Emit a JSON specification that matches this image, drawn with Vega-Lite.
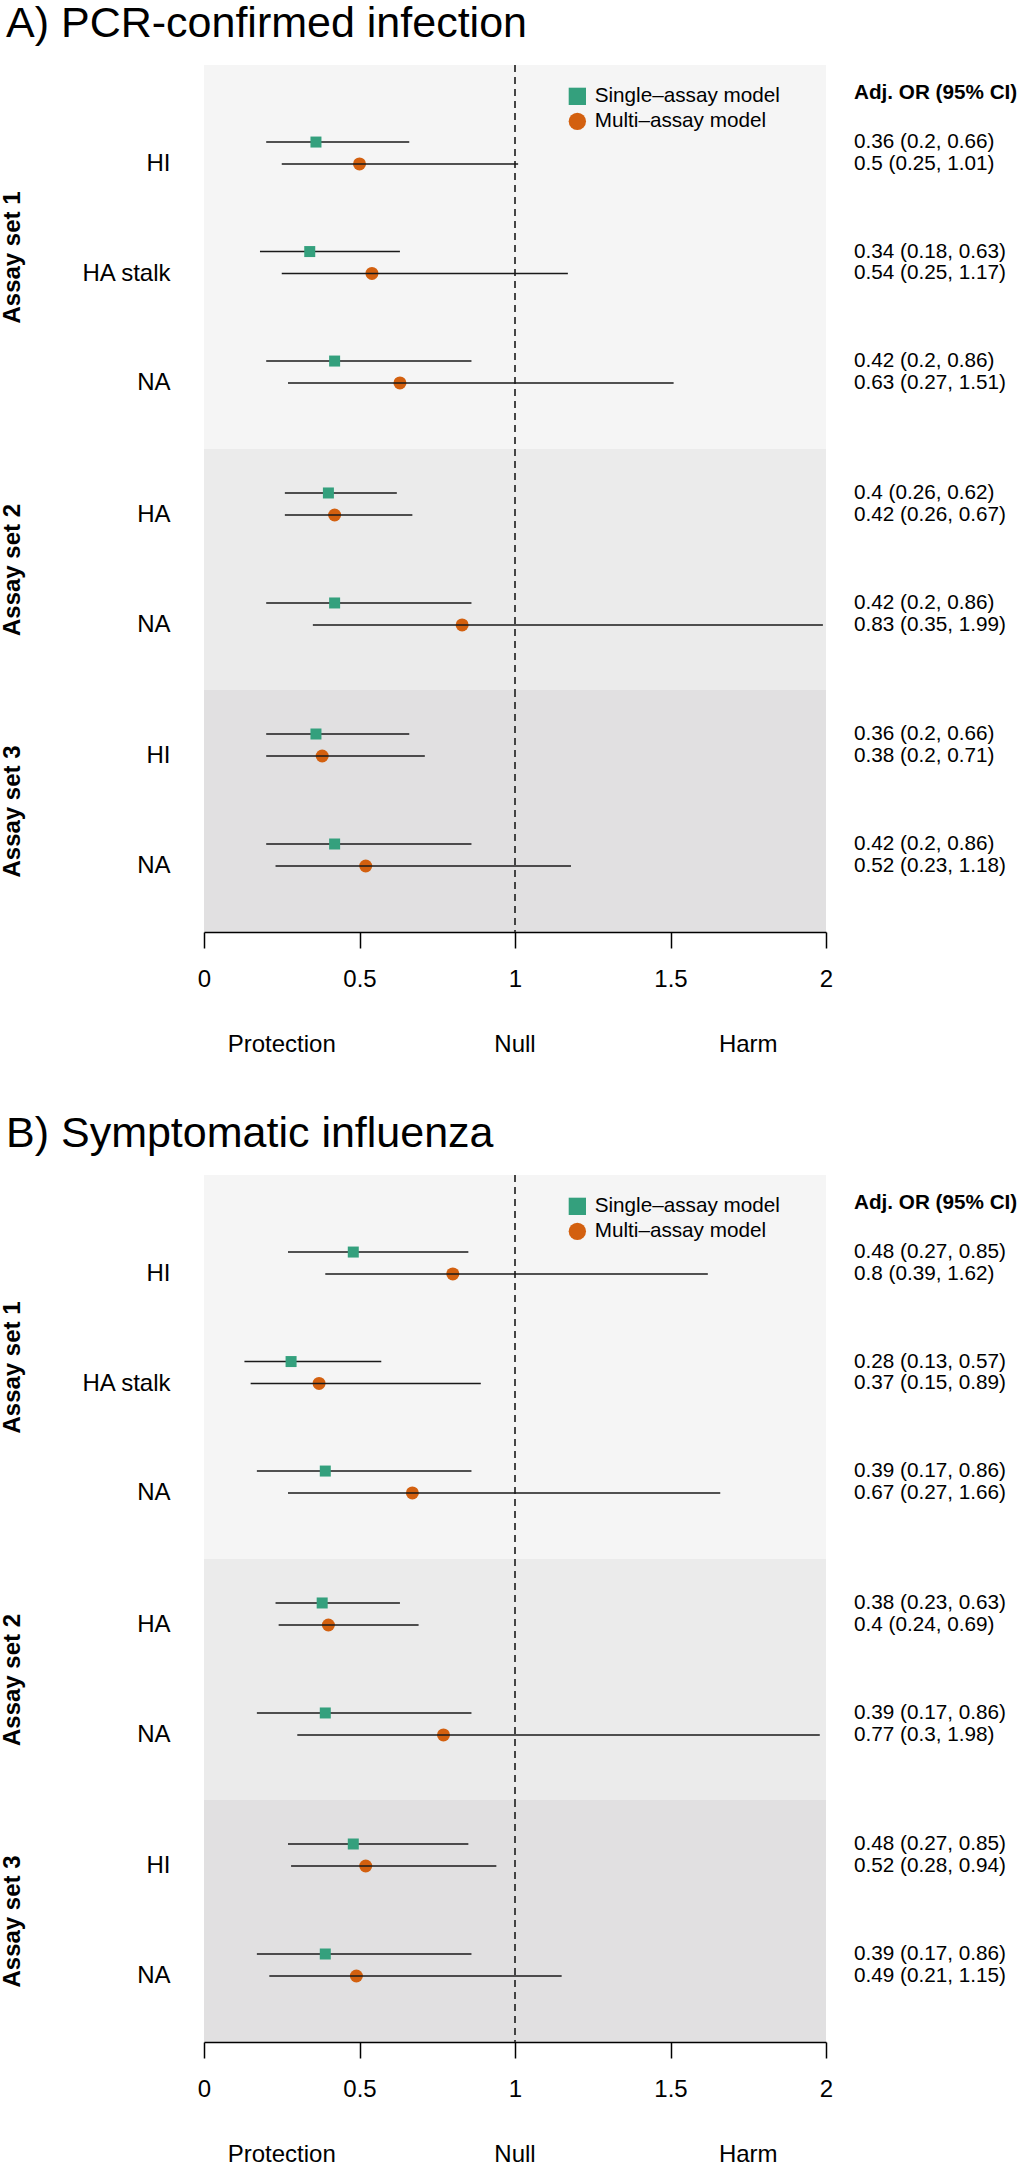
{
  "$schema": "https://vega.github.io/schema/vega-lite/v6.json",
  "padding": {"left": 0, "top": 3, "right": 0, "bottom": 0},
  "datasets": {
    "est": [
      {"outcome": "A", "set": "Assay set 1", "assay": "HI", "model": "Single–assay model", "est": 0.36, "lo": 0.2, "hi": 0.66, "label": "0.36 (0.2, 0.66)"},
      {"outcome": "A", "set": "Assay set 1", "assay": "HI", "model": "Multi–assay model", "est": 0.5, "lo": 0.25, "hi": 1.01, "label": "0.5 (0.25, 1.01)"},
      {"outcome": "A", "set": "Assay set 1", "assay": "HA stalk", "model": "Single–assay model", "est": 0.34, "lo": 0.18, "hi": 0.63, "label": "0.34 (0.18, 0.63)"},
      {"outcome": "A", "set": "Assay set 1", "assay": "HA stalk", "model": "Multi–assay model", "est": 0.54, "lo": 0.25, "hi": 1.17, "label": "0.54 (0.25, 1.17)"},
      {"outcome": "A", "set": "Assay set 1", "assay": "NA", "model": "Single–assay model", "est": 0.42, "lo": 0.2, "hi": 0.86, "label": "0.42 (0.2, 0.86)"},
      {"outcome": "A", "set": "Assay set 1", "assay": "NA", "model": "Multi–assay model", "est": 0.63, "lo": 0.27, "hi": 1.51, "label": "0.63 (0.27, 1.51)"},
      {"outcome": "A", "set": "Assay set 2", "assay": "HA", "model": "Single–assay model", "est": 0.4, "lo": 0.26, "hi": 0.62, "label": "0.4 (0.26, 0.62)"},
      {"outcome": "A", "set": "Assay set 2", "assay": "HA", "model": "Multi–assay model", "est": 0.42, "lo": 0.26, "hi": 0.67, "label": "0.42 (0.26, 0.67)"},
      {"outcome": "A", "set": "Assay set 2", "assay": "NA", "model": "Single–assay model", "est": 0.42, "lo": 0.2, "hi": 0.86, "label": "0.42 (0.2, 0.86)"},
      {"outcome": "A", "set": "Assay set 2", "assay": "NA", "model": "Multi–assay model", "est": 0.83, "lo": 0.35, "hi": 1.99, "label": "0.83 (0.35, 1.99)"},
      {"outcome": "A", "set": "Assay set 3", "assay": "HI", "model": "Single–assay model", "est": 0.36, "lo": 0.2, "hi": 0.66, "label": "0.36 (0.2, 0.66)"},
      {"outcome": "A", "set": "Assay set 3", "assay": "HI", "model": "Multi–assay model", "est": 0.38, "lo": 0.2, "hi": 0.71, "label": "0.38 (0.2, 0.71)"},
      {"outcome": "A", "set": "Assay set 3", "assay": "NA", "model": "Single–assay model", "est": 0.42, "lo": 0.2, "hi": 0.86, "label": "0.42 (0.2, 0.86)"},
      {"outcome": "A", "set": "Assay set 3", "assay": "NA", "model": "Multi–assay model", "est": 0.52, "lo": 0.23, "hi": 1.18, "label": "0.52 (0.23, 1.18)"},
      {"outcome": "B", "set": "Assay set 1", "assay": "HI", "model": "Single–assay model", "est": 0.48, "lo": 0.27, "hi": 0.85, "label": "0.48 (0.27, 0.85)"},
      {"outcome": "B", "set": "Assay set 1", "assay": "HI", "model": "Multi–assay model", "est": 0.8, "lo": 0.39, "hi": 1.62, "label": "0.8 (0.39, 1.62)"},
      {"outcome": "B", "set": "Assay set 1", "assay": "HA stalk", "model": "Single–assay model", "est": 0.28, "lo": 0.13, "hi": 0.57, "label": "0.28 (0.13, 0.57)"},
      {"outcome": "B", "set": "Assay set 1", "assay": "HA stalk", "model": "Multi–assay model", "est": 0.37, "lo": 0.15, "hi": 0.89, "label": "0.37 (0.15, 0.89)"},
      {"outcome": "B", "set": "Assay set 1", "assay": "NA", "model": "Single–assay model", "est": 0.39, "lo": 0.17, "hi": 0.86, "label": "0.39 (0.17, 0.86)"},
      {"outcome": "B", "set": "Assay set 1", "assay": "NA", "model": "Multi–assay model", "est": 0.67, "lo": 0.27, "hi": 1.66, "label": "0.67 (0.27, 1.66)"},
      {"outcome": "B", "set": "Assay set 2", "assay": "HA", "model": "Single–assay model", "est": 0.38, "lo": 0.23, "hi": 0.63, "label": "0.38 (0.23, 0.63)"},
      {"outcome": "B", "set": "Assay set 2", "assay": "HA", "model": "Multi–assay model", "est": 0.4, "lo": 0.24, "hi": 0.69, "label": "0.4 (0.24, 0.69)"},
      {"outcome": "B", "set": "Assay set 2", "assay": "NA", "model": "Single–assay model", "est": 0.39, "lo": 0.17, "hi": 0.86, "label": "0.39 (0.17, 0.86)"},
      {"outcome": "B", "set": "Assay set 2", "assay": "NA", "model": "Multi–assay model", "est": 0.77, "lo": 0.3, "hi": 1.98, "label": "0.77 (0.3, 1.98)"},
      {"outcome": "B", "set": "Assay set 3", "assay": "HI", "model": "Single–assay model", "est": 0.48, "lo": 0.27, "hi": 0.85, "label": "0.48 (0.27, 0.85)"},
      {"outcome": "B", "set": "Assay set 3", "assay": "HI", "model": "Multi–assay model", "est": 0.52, "lo": 0.28, "hi": 0.94, "label": "0.52 (0.28, 0.94)"},
      {"outcome": "B", "set": "Assay set 3", "assay": "NA", "model": "Single–assay model", "est": 0.39, "lo": 0.17, "hi": 0.86, "label": "0.39 (0.17, 0.86)"},
      {"outcome": "B", "set": "Assay set 3", "assay": "NA", "model": "Multi–assay model", "est": 0.49, "lo": 0.21, "hi": 1.15, "label": "0.49 (0.21, 1.15)"}
    ]
  },
  "spacing": 56,
  "resolve": {"scale": {"x": "independent", "y": "independent", "yOffset": "independent", "color": "independent", "shape": "independent"}},
  "vconcat": [
    {
      "title": {"text": "A) PCR-confirmed infection", "anchor": "start", "fontSize": 43, "fontWeight": "normal", "color": "black", "offset": 19, "dx": 6},
      "spacing": 42,
      "resolve": {"scale": {"x": "independent", "y": "independent", "yOffset": "independent", "color": "independent", "shape": "independent"}},
      "vconcat": [
        {
          "spacing": 0,
          "resolve": {"scale": {"x": "independent", "y": "independent", "yOffset": "independent", "color": "independent", "shape": "independent"}},
          "vconcat": [
            {
              "width": 622, "height": 384,
              "view": {"fill": "#F5F5F5", "stroke": null},
              "title": {"text": "Adj. OR (95% CI)", "anchor": "start", "frame": "group", "dx": 650, "offset": -49, "baseline": "middle", "fontSize": 20.7, "fontWeight": "bold", "color": "black"},
              "layer": [
                {"data": {"values": [{"v": 1}]}, "mark": {"type": "rule", "strokeDash": [7, 5], "color": "#333333", "strokeWidth": 1.8, "clip": true}, "encoding": {"x": {"datum": 1, "type": "quantitative", "scale": {"domain": [0, 2], "nice": false, "zero": false}, "axis": null}}},
                {
                  "data": {"name": "est"},
                  "transform": [{"filter": "datum.outcome == 'A' && datum.set == 'Assay set 1'"}],
                  "encoding": {
                    "y": {"field": "assay", "type": "nominal", "scale": {"type": "band", "domain": ["HI", "HA stalk", "NA"], "paddingInner": 0.6, "paddingOuter": 0.5534, "align": 0.5454}, "axis": {"title": "Assay set 1", "titleFontSize": 24, "titleFontWeight": "bold", "titleColor": "black", "titleAngle": 270, "titleBaseline": "alphabetic", "titleAlign": "center", "titleX": -185, "labelFontSize": 24, "labelColor": "black", "labelPadding": 34, "labelOffset": 11, "domain": false, "ticks": false, "grid": false, "minExtent": 140, "maxExtent": 140, "labelLimit": 300}},
                    "yOffset": {"field": "model", "type": "nominal", "scale": {"domain": ["Single–assay model", "Multi–assay model"], "paddingInner": 0, "paddingOuter": 0}}
                  },
                  "layer": [
                    {"transform": [{"filter": "datum.model == 'Multi–assay model'"}], "mark": {"type": "point", "filled": true, "opacity": 1, "strokeWidth": 0, "size": 169}, "encoding": {"x": {"field": "est", "type": "quantitative", "scale": {"domain": [0, 2], "nice": false, "zero": false}, "axis": null}, "color": {"field": "model", "type": "nominal", "scale": {"domain": ["Single–assay model", "Multi–assay model"], "range": ["#34A07D", "#D3600F"]}, "legend": {"title": null, "orient": "none", "legendX": 363, "legendY": 21, "labelFontSize": 20.7, "labelColor": "black", "labelLimit": 400, "symbolSize": 300, "padding": 0, "rowPadding": 3, "labelOffset": 7, "symbolStrokeWidth": 0, "symbolOpacity": 1}}, "shape": {"field": "model", "type": "nominal", "scale": {"domain": ["Single–assay model", "Multi–assay model"], "range": ["square", "circle"]}, "legend": {"title": null, "orient": "none", "legendX": 363, "legendY": 21, "labelFontSize": 20.7, "labelColor": "black", "labelLimit": 400, "symbolSize": 300, "padding": 0, "rowPadding": 3, "labelOffset": 7, "symbolStrokeWidth": 0, "symbolOpacity": 1}}}},
                    {"mark": {"type": "rule", "color": "#1a1a1a", "strokeWidth": 1.6}, "encoding": {"x": {"field": "lo", "type": "quantitative", "scale": {"domain": [0, 2], "nice": false, "zero": false}, "axis": null}, "x2": {"field": "hi"}}},
                    {"transform": [{"filter": "datum.model == 'Single–assay model'"}], "mark": {"type": "point", "filled": true, "opacity": 1, "strokeWidth": 0, "size": 121}, "encoding": {"x": {"field": "est", "type": "quantitative", "scale": {"domain": [0, 2], "nice": false, "zero": false}, "axis": null}, "color": {"field": "model", "type": "nominal", "scale": {"domain": ["Single–assay model", "Multi–assay model"], "range": ["#34A07D", "#D3600F"]}, "legend": {"title": null, "orient": "none", "legendX": 363, "legendY": 21, "labelFontSize": 20.7, "labelColor": "black", "labelLimit": 400, "symbolSize": 300, "padding": 0, "rowPadding": 3, "labelOffset": 7, "symbolStrokeWidth": 0, "symbolOpacity": 1}}, "shape": {"field": "model", "type": "nominal", "scale": {"domain": ["Single–assay model", "Multi–assay model"], "range": ["square", "circle"]}, "legend": {"title": null, "orient": "none", "legendX": 363, "legendY": 21, "labelFontSize": 20.7, "labelColor": "black", "labelLimit": 400, "symbolSize": 300, "padding": 0, "rowPadding": 3, "labelOffset": 7, "symbolStrokeWidth": 0, "symbolOpacity": 1}}}},
                    {"mark": {"type": "text", "align": "left", "baseline": "middle", "fontSize": 20.7, "color": "black"}, "encoding": {"x": {"datum": 2.09, "type": "quantitative", "scale": {"domain": [0, 2], "nice": false, "zero": false}, "axis": null}, "text": {"field": "label"}}}
                  ]
                }
              ]
            },
            {
              "width": 622, "height": 241,
              "view": {"fill": "#EBEBEB", "stroke": null},
              "layer": [
                {"data": {"values": [{"v": 1}]}, "mark": {"type": "rule", "strokeDash": [7, 5], "color": "#333333", "strokeWidth": 1.8, "clip": true}, "encoding": {"x": {"datum": 1, "type": "quantitative", "scale": {"domain": [0, 2], "nice": false, "zero": false}, "axis": null}}},
                {
                  "data": {"name": "est"},
                  "transform": [{"filter": "datum.outcome == 'A' && datum.set == 'Assay set 2'"}],
                  "encoding": {
                    "y": {"field": "assay", "type": "nominal", "scale": {"type": "band", "domain": ["HA", "NA"], "paddingInner": 0.6, "paddingOuter": 0.3955, "align": 0.379}, "axis": {"title": "Assay set 2", "titleFontSize": 24, "titleFontWeight": "bold", "titleColor": "black", "titleAngle": 270, "titleBaseline": "alphabetic", "titleAlign": "center", "titleX": -185, "labelFontSize": 24, "labelColor": "black", "labelPadding": 34, "labelOffset": 11, "domain": false, "ticks": false, "grid": false, "minExtent": 140, "maxExtent": 140, "labelLimit": 300}},
                    "yOffset": {"field": "model", "type": "nominal", "scale": {"domain": ["Single–assay model", "Multi–assay model"], "paddingInner": 0, "paddingOuter": 0}}
                  },
                  "layer": [
                    {"transform": [{"filter": "datum.model == 'Multi–assay model'"}], "mark": {"type": "point", "filled": true, "opacity": 1, "strokeWidth": 0, "size": 169}, "encoding": {"x": {"field": "est", "type": "quantitative", "scale": {"domain": [0, 2], "nice": false, "zero": false}, "axis": null}, "color": {"field": "model", "type": "nominal", "scale": {"domain": ["Single–assay model", "Multi–assay model"], "range": ["#34A07D", "#D3600F"]}, "legend": null}, "shape": {"field": "model", "type": "nominal", "scale": {"domain": ["Single–assay model", "Multi–assay model"], "range": ["square", "circle"]}, "legend": null}}},
                    {"mark": {"type": "rule", "color": "#1a1a1a", "strokeWidth": 1.6}, "encoding": {"x": {"field": "lo", "type": "quantitative", "scale": {"domain": [0, 2], "nice": false, "zero": false}, "axis": null}, "x2": {"field": "hi"}}},
                    {"transform": [{"filter": "datum.model == 'Single–assay model'"}], "mark": {"type": "point", "filled": true, "opacity": 1, "strokeWidth": 0, "size": 121}, "encoding": {"x": {"field": "est", "type": "quantitative", "scale": {"domain": [0, 2], "nice": false, "zero": false}, "axis": null}, "color": {"field": "model", "type": "nominal", "scale": {"domain": ["Single–assay model", "Multi–assay model"], "range": ["#34A07D", "#D3600F"]}, "legend": null}, "shape": {"field": "model", "type": "nominal", "scale": {"domain": ["Single–assay model", "Multi–assay model"], "range": ["square", "circle"]}, "legend": null}}},
                    {"mark": {"type": "text", "align": "left", "baseline": "middle", "fontSize": 20.7, "color": "black"}, "encoding": {"x": {"datum": 2.09, "type": "quantitative", "scale": {"domain": [0, 2], "nice": false, "zero": false}, "axis": null}, "text": {"field": "label"}}}
                  ]
                }
              ]
            },
            {
              "width": 622, "height": 242,
              "view": {"fill": "#E1E0E1", "stroke": null},
              "resolve": {"axis": {"x": "independent"}},
              "layer": [
                {"data": {"values": [{"v": 1}]}, "mark": {"type": "rule", "strokeDash": [7, 5], "color": "#333333", "strokeWidth": 1.8, "clip": true}, "encoding": {"x": {"datum": 1, "type": "quantitative", "scale": {"domain": [0, 2], "nice": false, "zero": false}, "axis": {"values": [0, 0.5, 1, 1.5, 2], "format": "~g", "orient": "bottom", "title": null, "domainColor": "black", "domainWidth": 1.5, "tickColor": "black", "tickWidth": 1.5, "tickSize": 16, "labelFontSize": 24, "labelColor": "black", "labelPadding": 19, "grid": false, "labelFlush": false, "labelOverlap": false}}}},
                {
                  "data": {"name": "est"},
                  "transform": [{"filter": "datum.outcome == 'A' && datum.set == 'Assay set 3'"}],
                  "encoding": {
                    "y": {"field": "assay", "type": "nominal", "scale": {"type": "band", "domain": ["HI", "NA"], "paddingInner": 0.6, "paddingOuter": 0.4, "align": 0.375}, "axis": {"title": "Assay set 3", "titleFontSize": 24, "titleFontWeight": "bold", "titleColor": "black", "titleAngle": 270, "titleBaseline": "alphabetic", "titleAlign": "center", "titleX": -185, "labelFontSize": 24, "labelColor": "black", "labelPadding": 34, "labelOffset": 11, "domain": false, "ticks": false, "grid": false, "minExtent": 140, "maxExtent": 140, "labelLimit": 300}},
                    "yOffset": {"field": "model", "type": "nominal", "scale": {"domain": ["Single–assay model", "Multi–assay model"], "paddingInner": 0, "paddingOuter": 0}}
                  },
                  "layer": [
                    {"transform": [{"filter": "datum.model == 'Multi–assay model'"}], "mark": {"type": "point", "filled": true, "opacity": 1, "strokeWidth": 0, "size": 169}, "encoding": {"x": {"field": "est", "type": "quantitative", "scale": {"domain": [0, 2], "nice": false, "zero": false}, "axis": null}, "color": {"field": "model", "type": "nominal", "scale": {"domain": ["Single–assay model", "Multi–assay model"], "range": ["#34A07D", "#D3600F"]}, "legend": null}, "shape": {"field": "model", "type": "nominal", "scale": {"domain": ["Single–assay model", "Multi–assay model"], "range": ["square", "circle"]}, "legend": null}}},
                    {"mark": {"type": "rule", "color": "#1a1a1a", "strokeWidth": 1.6}, "encoding": {"x": {"field": "lo", "type": "quantitative", "scale": {"domain": [0, 2], "nice": false, "zero": false}, "axis": null}, "x2": {"field": "hi"}}},
                    {"transform": [{"filter": "datum.model == 'Single–assay model'"}], "mark": {"type": "point", "filled": true, "opacity": 1, "strokeWidth": 0, "size": 121}, "encoding": {"x": {"field": "est", "type": "quantitative", "scale": {"domain": [0, 2], "nice": false, "zero": false}, "axis": null}, "color": {"field": "model", "type": "nominal", "scale": {"domain": ["Single–assay model", "Multi–assay model"], "range": ["#34A07D", "#D3600F"]}, "legend": null}, "shape": {"field": "model", "type": "nominal", "scale": {"domain": ["Single–assay model", "Multi–assay model"], "range": ["square", "circle"]}, "legend": null}}},
                    {"mark": {"type": "text", "align": "left", "baseline": "middle", "fontSize": 20.7, "color": "black"}, "encoding": {"x": {"datum": 2.09, "type": "quantitative", "scale": {"domain": [0, 2], "nice": false, "zero": false}, "axis": null}, "text": {"field": "label"}}}
                  ]
                }
              ]
            }
          ]
        },
        {
          "width": 622, "height": 16,
          "data": {"values": [{"v": 1}]},
          "layer": [
            {"mark": {"type": "text", "fontSize": 24, "color": "black", "baseline": "middle", "align": "center"}, "encoding": {"x": {"datum": 0.25, "type": "quantitative", "scale": {"domain": [0, 2], "nice": false, "zero": false}, "axis": null}, "text": {"value": "Protection"}}},
            {"mark": {"type": "text", "fontSize": 24, "color": "black", "baseline": "middle", "align": "center"}, "encoding": {"x": {"datum": 1, "type": "quantitative", "scale": {"domain": [0, 2], "nice": false, "zero": false}, "axis": null}, "text": {"value": "Null"}}},
            {"mark": {"type": "text", "fontSize": 24, "color": "black", "baseline": "middle", "align": "center"}, "encoding": {"x": {"datum": 1.75, "type": "quantitative", "scale": {"domain": [0, 2], "nice": false, "zero": false}, "axis": null}, "text": {"value": "Harm"}}}
          ]
        }
      ]
    },
    {
      "title": {"text": "B) Symptomatic influenza", "anchor": "start", "fontSize": 43, "fontWeight": "normal", "color": "black", "offset": 19, "dx": 6},
      "spacing": 42,
      "resolve": {"scale": {"x": "independent", "y": "independent", "yOffset": "independent", "color": "independent", "shape": "independent"}},
      "vconcat": [
        {
          "spacing": 0,
          "resolve": {"scale": {"x": "independent", "y": "independent", "yOffset": "independent", "color": "independent", "shape": "independent"}},
          "vconcat": [
            {
              "width": 622, "height": 384,
              "view": {"fill": "#F5F5F5", "stroke": null},
              "title": {"text": "Adj. OR (95% CI)", "anchor": "start", "frame": "group", "dx": 650, "offset": -49, "baseline": "middle", "fontSize": 20.7, "fontWeight": "bold", "color": "black"},
              "layer": [
                {"data": {"values": [{"v": 1}]}, "mark": {"type": "rule", "strokeDash": [7, 5], "color": "#333333", "strokeWidth": 1.8, "clip": true}, "encoding": {"x": {"datum": 1, "type": "quantitative", "scale": {"domain": [0, 2], "nice": false, "zero": false}, "axis": null}}},
                {
                  "data": {"name": "est"},
                  "transform": [{"filter": "datum.outcome == 'B' && datum.set == 'Assay set 1'"}],
                  "encoding": {
                    "y": {"field": "assay", "type": "nominal", "scale": {"type": "band", "domain": ["HI", "HA stalk", "NA"], "paddingInner": 0.6, "paddingOuter": 0.5534, "align": 0.5454}, "axis": {"title": "Assay set 1", "titleFontSize": 24, "titleFontWeight": "bold", "titleColor": "black", "titleAngle": 270, "titleBaseline": "alphabetic", "titleAlign": "center", "titleX": -185, "labelFontSize": 24, "labelColor": "black", "labelPadding": 34, "labelOffset": 11, "domain": false, "ticks": false, "grid": false, "minExtent": 140, "maxExtent": 140, "labelLimit": 300}},
                    "yOffset": {"field": "model", "type": "nominal", "scale": {"domain": ["Single–assay model", "Multi–assay model"], "paddingInner": 0, "paddingOuter": 0}}
                  },
                  "layer": [
                    {"transform": [{"filter": "datum.model == 'Multi–assay model'"}], "mark": {"type": "point", "filled": true, "opacity": 1, "strokeWidth": 0, "size": 169}, "encoding": {"x": {"field": "est", "type": "quantitative", "scale": {"domain": [0, 2], "nice": false, "zero": false}, "axis": null}, "color": {"field": "model", "type": "nominal", "scale": {"domain": ["Single–assay model", "Multi–assay model"], "range": ["#34A07D", "#D3600F"]}, "legend": {"title": null, "orient": "none", "legendX": 363, "legendY": 21, "labelFontSize": 20.7, "labelColor": "black", "labelLimit": 400, "symbolSize": 300, "padding": 0, "rowPadding": 3, "labelOffset": 7, "symbolStrokeWidth": 0, "symbolOpacity": 1}}, "shape": {"field": "model", "type": "nominal", "scale": {"domain": ["Single–assay model", "Multi–assay model"], "range": ["square", "circle"]}, "legend": {"title": null, "orient": "none", "legendX": 363, "legendY": 21, "labelFontSize": 20.7, "labelColor": "black", "labelLimit": 400, "symbolSize": 300, "padding": 0, "rowPadding": 3, "labelOffset": 7, "symbolStrokeWidth": 0, "symbolOpacity": 1}}}},
                    {"mark": {"type": "rule", "color": "#1a1a1a", "strokeWidth": 1.6}, "encoding": {"x": {"field": "lo", "type": "quantitative", "scale": {"domain": [0, 2], "nice": false, "zero": false}, "axis": null}, "x2": {"field": "hi"}}},
                    {"transform": [{"filter": "datum.model == 'Single–assay model'"}], "mark": {"type": "point", "filled": true, "opacity": 1, "strokeWidth": 0, "size": 121}, "encoding": {"x": {"field": "est", "type": "quantitative", "scale": {"domain": [0, 2], "nice": false, "zero": false}, "axis": null}, "color": {"field": "model", "type": "nominal", "scale": {"domain": ["Single–assay model", "Multi–assay model"], "range": ["#34A07D", "#D3600F"]}, "legend": {"title": null, "orient": "none", "legendX": 363, "legendY": 21, "labelFontSize": 20.7, "labelColor": "black", "labelLimit": 400, "symbolSize": 300, "padding": 0, "rowPadding": 3, "labelOffset": 7, "symbolStrokeWidth": 0, "symbolOpacity": 1}}, "shape": {"field": "model", "type": "nominal", "scale": {"domain": ["Single–assay model", "Multi–assay model"], "range": ["square", "circle"]}, "legend": {"title": null, "orient": "none", "legendX": 363, "legendY": 21, "labelFontSize": 20.7, "labelColor": "black", "labelLimit": 400, "symbolSize": 300, "padding": 0, "rowPadding": 3, "labelOffset": 7, "symbolStrokeWidth": 0, "symbolOpacity": 1}}}},
                    {"mark": {"type": "text", "align": "left", "baseline": "middle", "fontSize": 20.7, "color": "black"}, "encoding": {"x": {"datum": 2.09, "type": "quantitative", "scale": {"domain": [0, 2], "nice": false, "zero": false}, "axis": null}, "text": {"field": "label"}}}
                  ]
                }
              ]
            },
            {
              "width": 622, "height": 241,
              "view": {"fill": "#EBEBEB", "stroke": null},
              "layer": [
                {"data": {"values": [{"v": 1}]}, "mark": {"type": "rule", "strokeDash": [7, 5], "color": "#333333", "strokeWidth": 1.8, "clip": true}, "encoding": {"x": {"datum": 1, "type": "quantitative", "scale": {"domain": [0, 2], "nice": false, "zero": false}, "axis": null}}},
                {
                  "data": {"name": "est"},
                  "transform": [{"filter": "datum.outcome == 'B' && datum.set == 'Assay set 2'"}],
                  "encoding": {
                    "y": {"field": "assay", "type": "nominal", "scale": {"type": "band", "domain": ["HA", "NA"], "paddingInner": 0.6, "paddingOuter": 0.3955, "align": 0.379}, "axis": {"title": "Assay set 2", "titleFontSize": 24, "titleFontWeight": "bold", "titleColor": "black", "titleAngle": 270, "titleBaseline": "alphabetic", "titleAlign": "center", "titleX": -185, "labelFontSize": 24, "labelColor": "black", "labelPadding": 34, "labelOffset": 11, "domain": false, "ticks": false, "grid": false, "minExtent": 140, "maxExtent": 140, "labelLimit": 300}},
                    "yOffset": {"field": "model", "type": "nominal", "scale": {"domain": ["Single–assay model", "Multi–assay model"], "paddingInner": 0, "paddingOuter": 0}}
                  },
                  "layer": [
                    {"transform": [{"filter": "datum.model == 'Multi–assay model'"}], "mark": {"type": "point", "filled": true, "opacity": 1, "strokeWidth": 0, "size": 169}, "encoding": {"x": {"field": "est", "type": "quantitative", "scale": {"domain": [0, 2], "nice": false, "zero": false}, "axis": null}, "color": {"field": "model", "type": "nominal", "scale": {"domain": ["Single–assay model", "Multi–assay model"], "range": ["#34A07D", "#D3600F"]}, "legend": null}, "shape": {"field": "model", "type": "nominal", "scale": {"domain": ["Single–assay model", "Multi–assay model"], "range": ["square", "circle"]}, "legend": null}}},
                    {"mark": {"type": "rule", "color": "#1a1a1a", "strokeWidth": 1.6}, "encoding": {"x": {"field": "lo", "type": "quantitative", "scale": {"domain": [0, 2], "nice": false, "zero": false}, "axis": null}, "x2": {"field": "hi"}}},
                    {"transform": [{"filter": "datum.model == 'Single–assay model'"}], "mark": {"type": "point", "filled": true, "opacity": 1, "strokeWidth": 0, "size": 121}, "encoding": {"x": {"field": "est", "type": "quantitative", "scale": {"domain": [0, 2], "nice": false, "zero": false}, "axis": null}, "color": {"field": "model", "type": "nominal", "scale": {"domain": ["Single–assay model", "Multi–assay model"], "range": ["#34A07D", "#D3600F"]}, "legend": null}, "shape": {"field": "model", "type": "nominal", "scale": {"domain": ["Single–assay model", "Multi–assay model"], "range": ["square", "circle"]}, "legend": null}}},
                    {"mark": {"type": "text", "align": "left", "baseline": "middle", "fontSize": 20.7, "color": "black"}, "encoding": {"x": {"datum": 2.09, "type": "quantitative", "scale": {"domain": [0, 2], "nice": false, "zero": false}, "axis": null}, "text": {"field": "label"}}}
                  ]
                }
              ]
            },
            {
              "width": 622, "height": 242,
              "view": {"fill": "#E1E0E1", "stroke": null},
              "resolve": {"axis": {"x": "independent"}},
              "layer": [
                {"data": {"values": [{"v": 1}]}, "mark": {"type": "rule", "strokeDash": [7, 5], "color": "#333333", "strokeWidth": 1.8, "clip": true}, "encoding": {"x": {"datum": 1, "type": "quantitative", "scale": {"domain": [0, 2], "nice": false, "zero": false}, "axis": {"values": [0, 0.5, 1, 1.5, 2], "format": "~g", "orient": "bottom", "title": null, "domainColor": "black", "domainWidth": 1.5, "tickColor": "black", "tickWidth": 1.5, "tickSize": 16, "labelFontSize": 24, "labelColor": "black", "labelPadding": 19, "grid": false, "labelFlush": false, "labelOverlap": false}}}},
                {
                  "data": {"name": "est"},
                  "transform": [{"filter": "datum.outcome == 'B' && datum.set == 'Assay set 3'"}],
                  "encoding": {
                    "y": {"field": "assay", "type": "nominal", "scale": {"type": "band", "domain": ["HI", "NA"], "paddingInner": 0.6, "paddingOuter": 0.4, "align": 0.375}, "axis": {"title": "Assay set 3", "titleFontSize": 24, "titleFontWeight": "bold", "titleColor": "black", "titleAngle": 270, "titleBaseline": "alphabetic", "titleAlign": "center", "titleX": -185, "labelFontSize": 24, "labelColor": "black", "labelPadding": 34, "labelOffset": 11, "domain": false, "ticks": false, "grid": false, "minExtent": 140, "maxExtent": 140, "labelLimit": 300}},
                    "yOffset": {"field": "model", "type": "nominal", "scale": {"domain": ["Single–assay model", "Multi–assay model"], "paddingInner": 0, "paddingOuter": 0}}
                  },
                  "layer": [
                    {"transform": [{"filter": "datum.model == 'Multi–assay model'"}], "mark": {"type": "point", "filled": true, "opacity": 1, "strokeWidth": 0, "size": 169}, "encoding": {"x": {"field": "est", "type": "quantitative", "scale": {"domain": [0, 2], "nice": false, "zero": false}, "axis": null}, "color": {"field": "model", "type": "nominal", "scale": {"domain": ["Single–assay model", "Multi–assay model"], "range": ["#34A07D", "#D3600F"]}, "legend": null}, "shape": {"field": "model", "type": "nominal", "scale": {"domain": ["Single–assay model", "Multi–assay model"], "range": ["square", "circle"]}, "legend": null}}},
                    {"mark": {"type": "rule", "color": "#1a1a1a", "strokeWidth": 1.6}, "encoding": {"x": {"field": "lo", "type": "quantitative", "scale": {"domain": [0, 2], "nice": false, "zero": false}, "axis": null}, "x2": {"field": "hi"}}},
                    {"transform": [{"filter": "datum.model == 'Single–assay model'"}], "mark": {"type": "point", "filled": true, "opacity": 1, "strokeWidth": 0, "size": 121}, "encoding": {"x": {"field": "est", "type": "quantitative", "scale": {"domain": [0, 2], "nice": false, "zero": false}, "axis": null}, "color": {"field": "model", "type": "nominal", "scale": {"domain": ["Single–assay model", "Multi–assay model"], "range": ["#34A07D", "#D3600F"]}, "legend": null}, "shape": {"field": "model", "type": "nominal", "scale": {"domain": ["Single–assay model", "Multi–assay model"], "range": ["square", "circle"]}, "legend": null}}},
                    {"mark": {"type": "text", "align": "left", "baseline": "middle", "fontSize": 20.7, "color": "black"}, "encoding": {"x": {"datum": 2.09, "type": "quantitative", "scale": {"domain": [0, 2], "nice": false, "zero": false}, "axis": null}, "text": {"field": "label"}}}
                  ]
                }
              ]
            }
          ]
        },
        {
          "width": 622, "height": 16,
          "data": {"values": [{"v": 1}]},
          "layer": [
            {"mark": {"type": "text", "fontSize": 24, "color": "black", "baseline": "middle", "align": "center"}, "encoding": {"x": {"datum": 0.25, "type": "quantitative", "scale": {"domain": [0, 2], "nice": false, "zero": false}, "axis": null}, "text": {"value": "Protection"}}},
            {"mark": {"type": "text", "fontSize": 24, "color": "black", "baseline": "middle", "align": "center"}, "encoding": {"x": {"datum": 1, "type": "quantitative", "scale": {"domain": [0, 2], "nice": false, "zero": false}, "axis": null}, "text": {"value": "Null"}}},
            {"mark": {"type": "text", "fontSize": 24, "color": "black", "baseline": "middle", "align": "center"}, "encoding": {"x": {"datum": 1.75, "type": "quantitative", "scale": {"domain": [0, 2], "nice": false, "zero": false}, "axis": null}, "text": {"value": "Harm"}}}
          ]
        }
      ]
    }
  ],
  "config": {
    "font": "Liberation Sans",
    "view": {"stroke": null},
    "axis": {"labelFont": "Liberation Sans", "titleFont": "Liberation Sans"},
    "legend": {"labelFont": "Liberation Sans", "titleFont": "Liberation Sans"},
    "title": {"font": "Liberation Sans"},
    "text": {"font": "Liberation Sans"},
    "background": "white"
  }
}
